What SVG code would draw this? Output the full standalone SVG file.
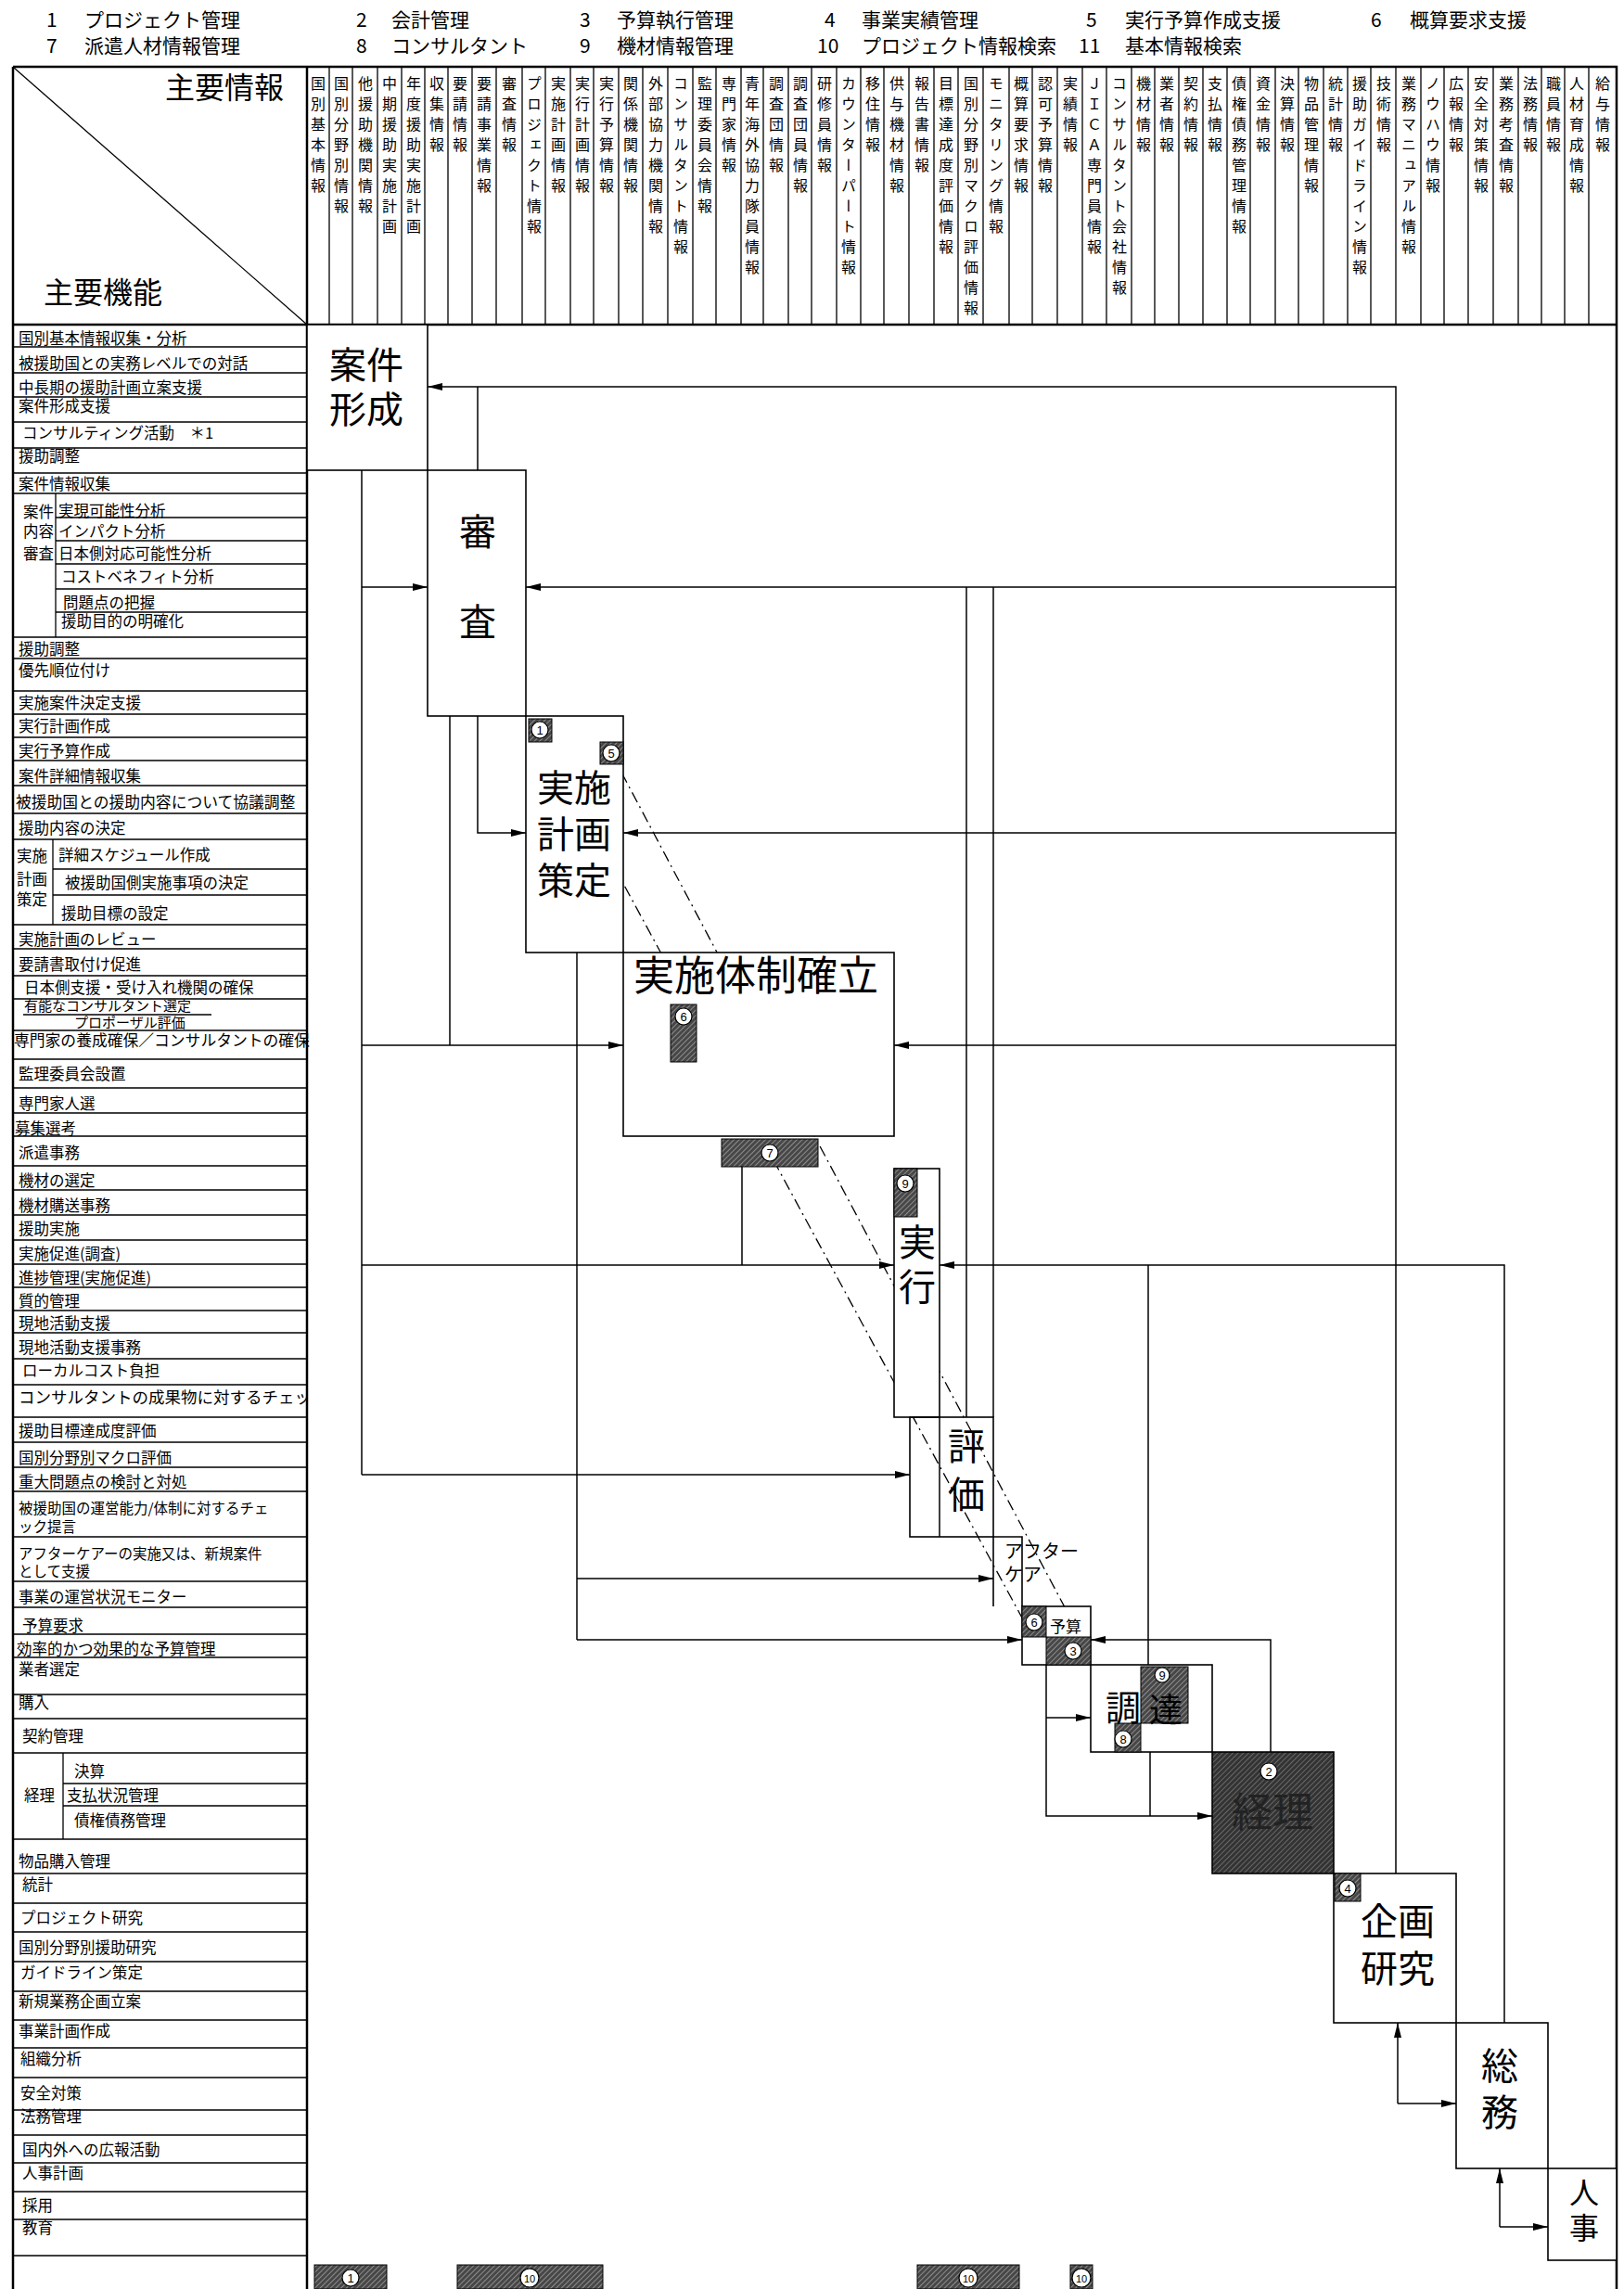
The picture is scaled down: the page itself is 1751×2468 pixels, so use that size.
<svg xmlns="http://www.w3.org/2000/svg" width="1751" height="2468" viewBox="0 0 1751 2468">
<style>
text{font-family:"Noto Sans CJK JP","Noto Sans",sans-serif;fill:#000}
.lg{font-size:21px}
.hd{font-size:32px}
.v{font-size:16px;writing-mode:vertical-rl;letter-spacing:6px}
.r{font-size:16.5px}
.r2{font-size:15.5px}
.big{font-size:40px;text-anchor:middle}
.mid{font-size:20px}
.f{fill:none;stroke:#000;stroke-width:2}
.t{fill:none;stroke:#000;stroke-width:1.3}
.c{fill:none;stroke:#000;stroke-width:1.5}
.d{fill:none;stroke:#000;stroke-width:1.3;stroke-dasharray:12 5 2 5}
.box{fill:#fff;stroke:#000;stroke-width:1.6}
.hb{fill:url(#h);stroke:#000;stroke-width:1}
.cn{fill:#fff;stroke:#000;stroke-width:1.2}
.cnt{font-size:13px;text-anchor:middle;font-family:"Liberation Sans",sans-serif}
</style>
<defs>
<pattern id="h" width="4" height="4" patternUnits="userSpaceOnUse" patternTransform="rotate(45)"><rect width="4" height="4" fill="#474747"/><line x1="0" y1="0" x2="0" y2="4" stroke="#bdbdbd" stroke-width="1.2"/></pattern>
<pattern id="hd" width="4" height="4" patternUnits="userSpaceOnUse" patternTransform="rotate(45)"><rect width="4" height="4" fill="#333"/><line x1="0" y1="0" x2="0" y2="4" stroke="#8c8c8c" stroke-width="1.2"/></pattern>
<marker id="a" viewBox="0 0 16 8" refX="16" refY="4" markerWidth="16" markerHeight="8" markerUnits="userSpaceOnUse" orient="auto"><path d="M0,0 L16,4 L0,8 z" fill="#000"/></marker>
</defs>

<g id="legend" class="lg">
<text x="50" y="29">1</text><text x="91" y="29">プロジェクト管理</text>
<text x="384" y="29">2</text><text x="422" y="29">会計管理</text>
<text x="625" y="29">3</text><text x="665" y="29">予算執行管理</text>
<text x="889" y="29">4</text><text x="929" y="29">事業実績管理</text>
<text x="1171" y="29">5</text><text x="1213" y="29">実行予算作成支援</text>
<text x="1478" y="29">6</text><text x="1520" y="29">概算要求支援</text>
<text x="50" y="57">7</text><text x="91" y="57">派遣人材情報管理</text>
<text x="384" y="57">8</text><text x="422" y="57">コンサルタント</text>
<text x="625" y="57">9</text><text x="665" y="57">機材情報管理</text>
<text x="881" y="57">10</text><text x="929" y="57">プロジェクト情報検索</text>
<text x="1163" y="57">11</text><text x="1213" y="57">基本情報検索</text>
</g>

<g id="frame">
<path class="f" d="M14,72 H1743 V2468 M14,72 V2468 M331,72 V2468 M14,350 H1743" style="stroke-width:2.5"/>
<line class="t" x1="15" y1="73" x2="331" y2="350"/>
<path class="t" d="M355,72V350M380,72V350M407,72V350M433,72V350M458,72V350M483,72V350M509,72V350M535,72V350M563,72V350M588,72V350M615,72V350M640,72V350M667,72V350M693,72V350M720,72V350M747,72V350M772,72V350M799,72V350M823,72V350M850,72V350M875,72V350M902,72V350M928,72V350M953,72V350M980,72V350M1007,72V350M1033,72V350M1060,72V350M1088,72V350M1113,72V350M1140,72V350M1167,72V350M1193,72V350M1220,72V350M1245,72V350M1271,72V350M1297,72V350M1323,72V350M1348,72V350M1375,72V350M1400,72V350M1427,72V350M1453,72V350M1478,72V350M1505,72V350M1532,72V350M1557,72V350M1583,72V350M1610,72V350M1637,72V350M1662,72V350M1687,72V350M1713,72V350"/>
<text class="hd" x="178" y="106">主要情報</text>
<text class="hd" x="47" y="327">主要機能</text>
</g>

<g id="columns" class="v">
<text x="343" y="82">国別基本情報</text>
<text x="368" y="82">国別分野別情報</text>
<text x="394" y="82">他援助機関情報</text>
<text x="420" y="82">中期援助実施計画</text>
<text x="446" y="82">年度援助実施計画</text>
<text x="471" y="82">収集情報</text>
<text x="496" y="82">要請情報</text>
<text x="522" y="82">要請事業情報</text>
<text x="549" y="82">審査情報</text>
<text x="576" y="82">プロジェクト情報</text>
<text x="602" y="82">実施計画情報</text>
<text x="628" y="82">実行計画情報</text>
<text x="654" y="82">実行予算情報</text>
<text x="680" y="82">関係機関情報</text>
<text x="707" y="82">外部協力機関情報</text>
<text x="734" y="82">コンサルタント情報</text>
<text x="760" y="82">監理委員会情報</text>
<text x="786" y="82">専門家情報</text>
<text x="811" y="82">青年海外協力隊員情報</text>
<text x="837" y="82">調査団情報</text>
<text x="863" y="82">調査団員情報</text>
<text x="889" y="82">研修員情報</text>
<text x="915" y="82">カウンターパート情報</text>
<text x="941" y="82">移住情報</text>
<text x="967" y="82">供与機材情報</text>
<text x="994" y="82">報告書情報</text>
<text x="1020" y="82">目標達成度評価情報</text>
<text x="1047" y="82">国別分野別マクロ評価情報</text>
<text x="1074" y="82">モニタリング情報</text>
<text x="1101" y="82">概算要求情報</text>
<text x="1127" y="82">認可予算情報</text>
<text x="1154" y="82">実績情報</text>
<text x="1180" y="82">ＪＩＣＡ専門員情報</text>
<text x="1207" y="82">コンサルタント会社情報</text>
<text x="1233" y="82">機材情報</text>
<text x="1258" y="82">業者情報</text>
<text x="1284" y="82">契約情報</text>
<text x="1310" y="82">支払情報</text>
<text x="1336" y="82">債権債務管理情報</text>
<text x="1362" y="82">資金情報</text>
<text x="1388" y="82">決算情報</text>
<text x="1414" y="82">物品管理情報</text>
<text x="1440" y="82">統計情報</text>
<text x="1466" y="82">援助ガイドライン情報</text>
<text x="1492" y="82">技術情報</text>
<text x="1519" y="82">業務マニュアル情報</text>
<text x="1545" y="82">ノウハウ情報</text>
<text x="1570" y="82">広報情報</text>
<text x="1597" y="82">安全対策情報</text>
<text x="1624" y="82">業務考査情報</text>
<text x="1650" y="82">法務情報</text>
<text x="1675" y="82">職員情報</text>
<text x="1700" y="82">人材育成情報</text>
<text x="1728" y="82">給与情報</text>
</g>

<g id="rows">
<path class="t" d="M15,374H331M15,402H331M15,428H331M15,455H331M15,483H331M15,510H331M15,532H331M15,687H331M15,710H331M15,745H331M15,770H331M15,795H331M15,820H331M15,847H331M15,877H331M15,905H331M15,997H331M15,1023H331M15,1052H331M15,1077H331M15,1111H331M15,1142H331M15,1173H331M15,1200H331M15,1225H331M15,1257H331M15,1283H331M15,1310H331M15,1337H331M15,1363H331M15,1388H331M15,1413H331M15,1437H331M15,1465H331M15,1493H331M15,1528H331M15,1555H331M15,1582H331M15,1608H331M15,1657H331M15,1705H331M15,1733H331M15,1762H331M15,1787H331M15,1827H331M15,1853H331M15,1890H331M15,1983H331M15,2020H331M15,2052H331M15,2083H331M15,2115H331M15,2147H331M15,2178H331M15,2208H331M15,2240H331M15,2275H331M15,2302H331M15,2332H331M15,2363H331M15,2393H331M15,2432H331"/>
<path class="t" d="M60,532V687M60,558H331M60,583H331M60,608H331M60,635H331M60,660H331M57,905V997M57,937H331M57,965H331M68,1890V1983M68,1923H331M68,1947H331M25,1094H228"/>
<g class="r">
<text x="20" y="371">国別基本情報収集・分析</text>
<text x="20" y="398">被援助国との実務レベルでの対話</text>
<text x="20" y="424">中長期の援助計画立案支援</text>
<text x="20" y="444">案件形成支援</text>
<text x="24" y="473">コンサルティング活動　＊1</text>
<text x="20" y="498">援助調整</text>
<text x="20" y="528">案件情報収集</text>
<text x="25" y="558">案件</text><text x="25" y="579">内容</text><text x="25" y="603">審査</text>
<text x="63" y="557">実現可能性分析</text>
<text x="63" y="579">インパクト分析</text>
<text x="63" y="603">日本側対応可能性分析</text>
<text x="66" y="628">コストベネフィト分析</text>
<text x="68" y="656">問題点の把握</text>
<text x="66" y="676">援助目的の明確化</text>
<text x="20" y="706">援助調整</text>
<text x="20" y="729">優先順位付け</text>
<text x="20" y="764">実施案件決定支援</text>
<text x="20" y="789">実行計画作成</text>
<text x="20" y="816">実行予算作成</text>
<text x="20" y="843">案件詳細情報収集</text>
<text x="17" y="871" style="font-size:16.8px">被援助国との援助内容について協議調整</text>
<text x="20" y="899">援助内容の決定</text>
<text x="18" y="929">実施</text><text x="18" y="954">計画</text><text x="18" y="976">策定</text>
<text x="63" y="928">詳細スケジュール作成</text>
<text x="70" y="958">被援助国側実施事項の決定</text>
<text x="66" y="991">援助目標の設定</text>
<text x="20" y="1019">実施計画のレビュー</text>
<text x="20" y="1046">要請書取付け促進</text>
<text x="26" y="1071">日本側支援・受け入れ機関の確保</text>
<text x="26" y="1090" style="font-size:15px">有能なコンサルタント選定</text>
<text x="80" y="1108" style="font-size:15px">プロポーザル評価</text>
<text x="15" y="1128" style="font-size:16.8px">専門家の養成確保／コンサルタントの確保</text>
<text x="20" y="1164">監理委員会設置</text>
<text x="20" y="1196">専門家人選</text>
<text x="16" y="1223">募集選考</text>
<text x="20" y="1249">派遣事務</text>
<text x="20" y="1279">機材の選定</text>
<text x="20" y="1306">機材購送事務</text>
<text x="20" y="1331">援助実施</text>
<text x="20" y="1358">実施促進(調査)</text>
<text x="20" y="1384">進捗管理(実施促進)</text>
<text x="20" y="1409">質的管理</text>
<text x="20" y="1433">現地活動支援</text>
<text x="20" y="1459">現地活動支援事務</text>
<text x="24" y="1484">ローカルコスト負担</text>
<svg x="15" y="1495" width="316" height="30"><text x="5" y="18" style="font-size:17.5px">コンサルタントの成果物に対するチェック</text></svg>
<text x="20" y="1549">援助目標達成度評価</text>
<text x="20" y="1578">国別分野別マクロ評価</text>
<text x="20" y="1604">重大問題点の検討と対処</text>
<text x="20" y="1632" class="r2">被援助国の運営能力/体制に対するチェ</text>
<text x="20" y="1652" class="r2">ック提言</text>
<text x="20" y="1681" class="r2">アフターケアーの実施又は、新規案件</text>
<text x="20" y="1700" class="r2">として支援</text>
<text x="20" y="1728">事業の運営状況モニター</text>
<text x="24" y="1759">予算要求</text>
<text x="18" y="1784">効率的かつ効果的な予算管理</text>
<text x="20" y="1806">業者選定</text>
<text x="20" y="1842">購入</text>
<text x="24" y="1878">契約管理</text>
<text x="26" y="1942">経理</text>
<text x="80" y="1916">決算</text>
<text x="72" y="1942">支払状況管理</text>
<text x="80" y="1969">債権債務管理</text>
<text x="20" y="2013">物品購入管理</text>
<text x="24" y="2038">統計</text>
<text x="22" y="2074">プロジェクト研究</text>
<text x="20" y="2106">国別分野別援助研究</text>
<text x="22" y="2133">ガイドライン策定</text>
<text x="20" y="2164">新規業務企画立案</text>
<text x="20" y="2196">事業計画作成</text>
<text x="22" y="2226">組織分析</text>
<text x="22" y="2263">安全対策</text>
<text x="22" y="2288">法務管理</text>
<text x="24" y="2324">国内外への広報活動</text>
<text x="24" y="2349">人事計画</text>
<text x="24" y="2384">採用</text>
<text x="24" y="2408">教育</text>
</g>
</g>

<g id="connectors">
<path class="c" d="M1505,2020V417H461" marker-end="url(#a)"/>
<path class="c" d="M1505,633H567" marker-end="url(#a)"/>
<path class="c" d="M1505,898H672" marker-end="url(#a)"/>
<path class="c" d="M1505,1127H964" marker-end="url(#a)"/>
<path class="c" d="M1042,633V1528"/>
<path class="c" d="M1071,633V1528"/>
<path class="c" d="M515,417V507"/>
<path class="c" d="M515,772V898H567" marker-end="url(#a)"/>
<path class="c" d="M485,772V1127"/>
<path class="c" d="M390,507V1590"/>
<path class="c" d="M390,633H461" marker-end="url(#a)"/>
<path class="c" d="M390,1127H672" marker-end="url(#a)"/>
<path class="c" d="M390,1364H964" marker-end="url(#a)"/>
<path class="c" d="M390,1590H981" marker-end="url(#a)"/>
<path class="c" d="M800,1258V1364"/>
<path class="c" d="M1622,2181V1364H1013" marker-end="url(#a)"/>
<path class="c" d="M1013,1528V1657"/>
<path class="c" d="M622,1027V1768"/>
<path class="c" d="M622,1702H1071" marker-end="url(#a)"/>
<path class="c" d="M622,1768H1102" marker-end="url(#a)"/>
<path class="c" d="M1370,1889V1768H1176" marker-end="url(#a)"/>
<path class="c" d="M1238,1364V1797"/>
<path class="c" d="M1128,1795V1958H1307" marker-end="url(#a)"/>
<path class="c" d="M1128,1852H1176" marker-end="url(#a)"/>
<path class="c" d="M1240,1889V1958"/>
<path class="c" d="M1507,2268V2181" marker-end="url(#a)"/>
<path class="c" d="M1507,2268H1570" marker-end="url(#a)"/>
<path class="c" d="M1617,2401V2338" marker-end="url(#a)"/>
<path class="c" d="M1617,2401H1669" marker-end="url(#a)"/>
<path class="d" d="M582,787L1104,1748"/>
<path class="d" d="M659,812L1165,1765"/>
</g>

<g id="n-anken-keisei"><rect class="box" x="331" y="350" width="130" height="157"/><text class="big" x="395" y="408">案件</text><text class="big" x="395" y="456">形成</text></g>
<g id="n-shinsa"><rect class="box" x="461" y="507" width="106" height="265"/><text class="big" x="515" y="588">審</text><text class="big" x="515" y="685">査</text></g>
<g id="n-jisshi-keikaku"><rect class="box" x="567" y="772" width="105" height="255"/><text class="big" x="619" y="864">実施</text><text class="big" x="619" y="914">計画</text><text class="big" x="619" y="964">策定</text>
<rect class="hb" x="570" y="775" width="25" height="25"/><circle class="cn" cx="582" cy="787" r="9"/><text class="cnt" x="582" y="792">1</text>
<rect class="hb" x="647" y="800" width="25" height="24"/><circle class="cn" cx="659" cy="812" r="9"/><text class="cnt" x="659" y="817">5</text></g>
<g id="n-taisei"><rect class="box" x="672" y="1027" width="292" height="198"/><text class="big" x="815" y="1068" style="font-size:44px">実施体制確立</text>
<rect class="hb" x="723" y="1083" width="28" height="62"/><circle class="cn" cx="737" cy="1096" r="9"/><text class="cnt" x="737" y="1101">6</text></g>
<g id="m7"><rect class="hb" x="778" y="1228" width="104" height="30"/><circle class="cn" cx="830" cy="1243" r="9"/><text class="cnt" x="830" y="1248">7</text></g>
<g id="n-jikko"><rect class="box" x="964" y="1260" width="49" height="268"/><text class="big" x="989" y="1354">実</text><text class="big" x="989" y="1402">行</text>
<rect class="hb" x="964" y="1260" width="25" height="52"/><circle class="cn" cx="976" cy="1276" r="9"/><text class="cnt" x="976" y="1281">9</text></g>
<g id="n-hyoka"><rect class="box" x="981" y="1528" width="90" height="129" style="fill:none"/><text class="big" x="1042" y="1574">評</text><text class="big" x="1042" y="1626">価</text></g>
<g id="n-aftercare"><path class="box" d="M1071,1657V1732M1071,1657H1102V1732" style="fill:none"/><text class="mid" x="1083" y="1680">アフター</text><text class="mid" x="1083" y="1705">ケア</text></g>
<g id="n-yosan"><rect class="box" x="1102" y="1732" width="74" height="63"/>
<rect class="hb" x="1102" y="1732" width="26" height="33"/><circle class="cn" cx="1115" cy="1749" r="9"/><text class="cnt" x="1115" y="1754">6</text>
<rect class="hb" x="1128" y="1765" width="48" height="30"/><circle class="cn" cx="1157" cy="1780" r="9"/><text class="cnt" x="1157" y="1785">3</text>
<text x="1132" y="1760" style="font-size:17px">予算</text></g>
<g id="n-chotatsu"><rect class="box" x="1176" y="1795" width="131" height="94"/>
<rect class="hb" x="1230" y="1797" width="51" height="61"/><rect class="hb" x="1202" y="1858" width="28" height="31"/>
<text x="1211" y="1855" style="font-size:38px;text-anchor:middle">調</text><text x="1257" y="1857" style="font-size:36px;text-anchor:middle">達</text>
<circle class="cn" cx="1253" cy="1806" r="8"/><text class="cnt" x="1253" y="1811">9</text>
<circle class="cn" cx="1211" cy="1875" r="9"/><text class="cnt" x="1211" y="1880">8</text></g>
<g id="n-keiri"><rect x="1307" y="1889" width="131" height="131" fill="url(#hd)" stroke="#000" stroke-width="1.6"/><circle class="cn" cx="1368" cy="1910" r="9"/><text class="cnt" x="1368" y="1915">2</text><text class="big" x="1372" y="1970" style="font-size:44px;fill:#222">経理</text></g>
<g id="n-kikaku"><rect class="box" x="1438" y="2020" width="132" height="161"/><text class="big" x="1507" y="2086">企画</text><text class="big" x="1507" y="2137">研究</text>
<rect class="hb" x="1439" y="2020" width="28" height="30"/><circle class="cn" cx="1453" cy="2036" r="9"/><text class="cnt" x="1453" y="2041">4</text></g>
<g id="n-somu"><rect class="box" x="1570" y="2181" width="99" height="157"/><text class="big" x="1617" y="2242">総</text><text class="big" x="1617" y="2292">務</text></g>
<g id="n-jinji"><rect class="box" x="1669" y="2338" width="74" height="99"/><text class="big" x="1708" y="2376" style="font-size:32px">人</text><text class="big" x="1708" y="2414" style="font-size:32px">事</text></g>

<g id="bottom-markers">
<rect class="hb" x="339" y="2442" width="78" height="26"/><circle class="cn" cx="378" cy="2456" r="9"/><text class="cnt" x="378" y="2461">1</text>
<rect class="hb" x="493" y="2442" width="157" height="26"/><circle class="cn" cx="571" cy="2456" r="10"/><text class="cnt" x="571" y="2461" style="font-size:11px">10</text>
<rect class="hb" x="989" y="2442" width="110" height="26"/><circle class="cn" cx="1044" cy="2456" r="10"/><text class="cnt" x="1044" y="2461" style="font-size:11px">10</text>
<rect class="hb" x="1154" y="2442" width="24" height="26"/><circle class="cn" cx="1166" cy="2456" r="10"/><text class="cnt" x="1166" y="2461" style="font-size:11px">10</text>
</g>
</svg>
